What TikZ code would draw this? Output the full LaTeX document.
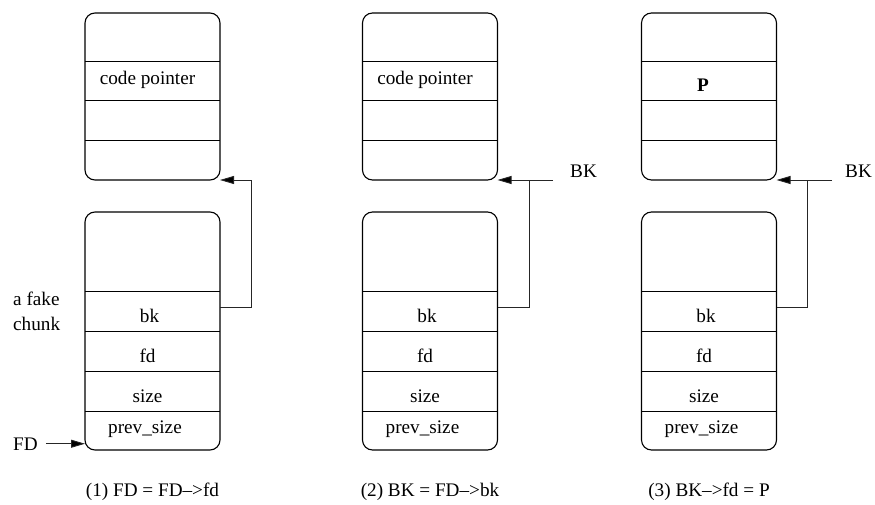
\documentclass[tikz,border=0pt]{standalone}
\usepackage{fontspec}
\setmainfont{Liberation Serif}
\usetikzlibrary{positioning,arrows.meta}

\tikzset{
  chunk/.style={draw, line width=1.1pt, rounded corners=10pt, minimum width=135pt, inner sep=0pt, outer sep=0pt},
  topchunk/.style={chunk, minimum height=167pt},
  botchunk/.style={chunk, minimum height=238pt},
  divider/.style={line width=0.9pt},
  field/.style={anchor=base, inner sep=0pt},
  side/.style={anchor=base west, inner sep=0pt},
  link/.style={line width=0.9pt, black!85},
  ptr/.style={link, -{Triangle[length=14pt,width=8pt,fill=black]}},
}

\begin{document}
\begin{tikzpicture}[x=1pt,y=1pt,node distance=234.5pt,on grid,font=\fontsize{19.2}{25}\selectfont]
		\useasboundingbox (0,0) rectangle (875,504);
		
		\node[topchunk] (top1) at (152.5,407.5) {};
		\node[topchunk] (top2) [right=277.5pt of top1] {};
		\node[topchunk] (top3) [right=279pt of top2] {};
		\node[botchunk] (bot1) [below=of top1] {};
		\node[botchunk] (bot2) [below=of top2] {};
		\node[botchunk] (bot3) [below=of top3] {};
		
		% fields of the chunks
		\draw[divider] ([yshift=-48pt]top1.north west) -- ([yshift=-48pt]top1.north east)
		               ([yshift=-87pt]top1.north west) -- ([yshift=-87pt]top1.north east)
		               ([yshift=-127pt]top1.north west) -- ([yshift=-127pt]top1.north east);
		\draw[divider] ([yshift=-48pt]top2.north west) -- ([yshift=-48pt]top2.north east)
		               ([yshift=-87pt]top2.north west) -- ([yshift=-87pt]top2.north east)
		               ([yshift=-127pt]top2.north west) -- ([yshift=-127pt]top2.north east);
		\draw[divider] ([yshift=-48pt]top3.north west) -- ([yshift=-48pt]top3.north east)
		               ([yshift=-87pt]top3.north west) -- ([yshift=-87pt]top3.north east)
		               ([yshift=-127pt]top3.north west) -- ([yshift=-127pt]top3.north east);
		\draw[divider] ([yshift=-79pt]bot1.north west) -- ([yshift=-79pt]bot1.north east)
		               ([yshift=-119pt]bot1.north west) -- ([yshift=-119pt]bot1.north east)
		               ([yshift=-159pt]bot1.north west) -- ([yshift=-159pt]bot1.north east)
		               ([yshift=-199pt]bot1.north west) -- ([yshift=-199pt]bot1.north east);
		\draw[divider] ([yshift=-79pt]bot2.north west) -- ([yshift=-79pt]bot2.north east)
		               ([yshift=-119pt]bot2.north west) -- ([yshift=-119pt]bot2.north east)
		               ([yshift=-159pt]bot2.north west) -- ([yshift=-159pt]bot2.north east)
		               ([yshift=-199pt]bot2.north west) -- ([yshift=-199pt]bot2.north east);
		\draw[divider] ([yshift=-79pt]bot3.north west) -- ([yshift=-79pt]bot3.north east)
		               ([yshift=-119pt]bot3.north west) -- ([yshift=-119pt]bot3.north east)
		               ([yshift=-159pt]bot3.north west) -- ([yshift=-159pt]bot3.north east)
		               ([yshift=-199pt]bot3.north west) -- ([yshift=-199pt]bot3.north east);
		
		\node[field] (cp1) at ([xshift=-5pt,yshift=-72pt]top1.north) {code pointer};
		\node[field] (cp2) at ([xshift=-5pt,yshift=-72pt]top2.north) {code pointer};
		\node[field] (P3)  at ([xshift=-6pt,yshift=-79pt]top3.north) {\bfseries P};
		
		\node[field] (bk1)   at ([xshift=-3pt,yshift=-110.7pt]bot1.north) {bk};
		\node[field] (fd1)   at ([xshift=-5pt,yshift=-150.7pt]bot1.north) {fd};
		\node[field] (size1) at ([xshift=-5pt,yshift=-190.7pt]bot1.north) {size};
		\node[field] (prev1) at ([xshift=-7.5pt,yshift=-221pt]bot1.north) {prev\_size};
		\node[field] (bk2)   at ([xshift=-3pt,yshift=-110.7pt]bot2.north) {bk};
		\node[field] (fd2)   at ([xshift=-5pt,yshift=-150.7pt]bot2.north) {fd};
		\node[field] (size2) at ([xshift=-5pt,yshift=-190.7pt]bot2.north) {size};
		\node[field] (prev2) at ([xshift=-7.5pt,yshift=-221pt]bot2.north) {prev\_size};
		\node[field] (bk3)   at ([xshift=-3pt,yshift=-110.7pt]bot3.north) {bk};
		\node[field] (fd3)   at ([xshift=-5pt,yshift=-150.7pt]bot3.north) {fd};
		\node[field] (size3) at ([xshift=-5pt,yshift=-190.7pt]bot3.north) {size};
		\node[field] (prev3) at ([xshift=-7.5pt,yshift=-221pt]bot3.north) {prev\_size};
		
		% labels round the chunks
		\node[side,align=left] (fake) at (13,174) {a fake\\chunk};
		\node[side] (FD)  at (13,54)  {FD};
		\node[side] (BK2) at (570,326) {BK};
		\node[side] (BK3) at (845,326) {BK};
		
		\node (cap1) [below=161pt of bot1] {(1) FD = FD-->fd};
		\node (cap2) [below=161pt of bot2] {(2) BK = FD-->bk};
		\node (cap3) [below=161pt of bot3] {(3) BK-->fd = P};
		
		% pointers
		\coordinate (bkout1) at ([yshift=-95pt]bot1.north east);
		\coordinate (bkout2) at ([yshift=-95pt]bot2.north east);
		\coordinate (bkout3) at ([yshift=-95pt]bot3.north east);
		\coordinate (bkin2) at ([xshift=-17pt]BK2.west |- top2.south);
		\coordinate (bkin3) at ([xshift=-13pt]BK3.west |- top3.south);
		
		\draw[ptr] ([xshift=8pt]FD.east) -- (FD.east -| bot1.west);
		\draw[ptr] (bkout1) -| ([xshift=31pt]top1.south east) -- (top1.south east);
		\draw[link] (bkout2) -| ([xshift=32pt]top2.south east);
		\draw[ptr] (bkin2) -- (top2.south east);
		\draw[link] (bkout3) -| ([xshift=31pt]top3.south east);
		\draw[ptr] (bkin3) -- (top3.south east);
		
	\end{tikzpicture}
\end{document}
